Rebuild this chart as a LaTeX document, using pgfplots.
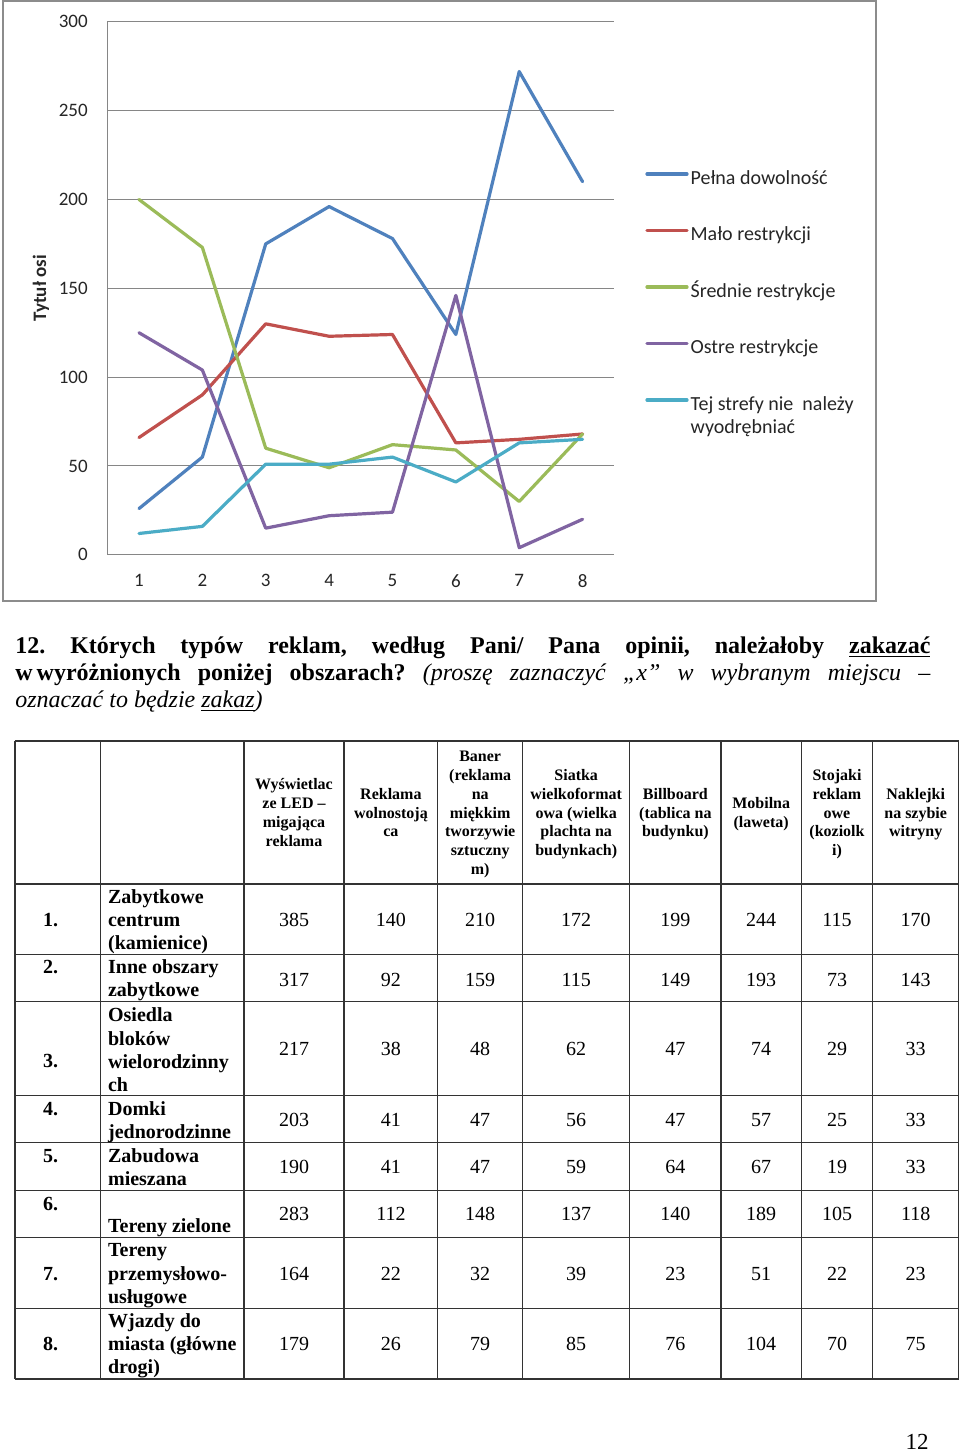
\documentclass[border=0pt]{standalone}
\usepackage{fontspec}
\setmainfont{Liberation Serif}
\newfontfamily\chartfont{Carlito}
\usepackage{pgfplots}
\pgfplotsset{compat=1.18}
\definecolor{sBlue}{HTML}{4F81BD}
\definecolor{sRed}{HTML}{C0504D}
\definecolor{sGreen}{HTML}{9BBB59}
\definecolor{sPurple}{HTML}{8064A2}
\definecolor{sAqua}{HTML}{4BACC6}
\definecolor{gridgray}{HTML}{868686}
\definecolor{framegray}{HTML}{8C8C8C}
\newcommand\hdr[3]{\foreach \t [count=\i] in {#3}{\node[anchor=base, inner sep=0pt, font=\bfseries\fontsize{8}{9}\selectfont] at (#1, {818-(#2-1)*9.35+(\i-1)*18.7}) {\t};}}
\newcommand\rl[2]{\node[anchor=base west, inner sep=0pt, font=\bfseries\fontsize{10}{11}\selectfont] at (107.7,#1) {#2};}
\newcommand\rn[2]{\node[anchor=base west, inner sep=0pt, font=\bfseries\fontsize{10}{11}\selectfont] at (42.7,#1) {#2};}
\begin{document}
\begin{tikzpicture}
\fill[white] (0,0) rectangle (480pt,-726pt);
\path[use as bounding box] (0,0) rectangle (480pt,-726pt);
\begin{scope}[x=0.5pt,y=-0.5pt]
\draw[framegray, line width=0.7pt] (3,0.8) rectangle (876,601);
\end{scope}
\begin{axis}[
  at={(53.65pt,-10.9pt)}, anchor=north west,
  scale only axis, width=253.5pt, height=266.5pt,
  xmin=0.5, xmax=8.5, ymin=0, ymax=300,
  xtick={1,2,...,8}, ytick={0,50,...,300},
  axis x line*=bottom, axis y line*=left,
  axis line style={gridgray, line width=0.5pt, -},
  ymajorgrids, grid style={gridgray, line width=0.5pt},
  major tick length=0pt,
  tick label style={font=\chartfont\fontsize{9.5}{11}\selectfont, inner sep=0pt, text=black!85},
  /pgf/number format/assume math mode=true,
  xticklabel shift=9.5pt, yticklabel shift=9.6pt,
  ylabel={Tytuł osi},
  ylabel style={at={(axis description cs:-0.1308,0.5)}, anchor=center, inner sep=0pt, font=\chartfont\bfseries\fontsize{9.5}{11}\selectfont, text=black!85},
  legend style={draw=none, fill=none, at={(axis description cs:1.0606,0.7208)}, anchor=north west,
    inner sep=0pt, row sep=19.6pt, column sep=1pt,
    nodes={inner sep=0pt, text height=6.65pt, text depth=2pt, font=\chartfont\fontsize{10}{11.7}\selectfont, text=black!85}},
  legend cell align=left,
  legend image code/.code={\draw[#1, line width=1.6pt] (0pt,2.8pt) -- (20pt,2.8pt);},
  every axis plot/.append style={line width=1.6pt, line join=round, line cap=round},
  clip=false,
]
\addplot[sBlue] coordinates {(1,26)(2,55)(3,175)(4,196)(5,178)(6,124)(7,272)(8,210)};
\addlegendentry{Pełna dowolność}
\addplot[sRed] coordinates {(1,66)(2,90)(3,130)(4,123)(5,124)(6,63)(7,65)(8,68)};
\addlegendentry{Mało restrykcji}
\addplot[sGreen] coordinates {(1,200)(2,173)(3,60)(4,49)(5,62)(6,59)(7,30)(8,68)};
\addlegendentry{Średnie restrykcje}
\addplot[sPurple] coordinates {(1,125)(2,104)(3,15)(4,22)(5,24)(6,146)(7,4)(8,20)};
\addlegendentry{Ostre restrykcje}
\addplot[sAqua] coordinates {(1,12)(2,16)(3,51)(4,51)(5,55)(6,41)(7,63)(8,65)};
\addlegendentry{\parbox[t]{95pt}{Tej strefy nie\ \ należy\\wyodrębniać}}
\end{axis}
\begin{scope}[x=0.5pt,y=-0.5pt]
% question
\node[anchor=base west, inner sep=0pt] at (15,653) {\parbox[t]{457.5pt}{\fontsize{12}{13.5}\selectfont\bfseries\frenchspacing\tolerance=10000\hbadness=10000
12. Których typów reklam, według Pani/ Pana opinii, należałoby \underline{zakazać}\linebreak
w\hspace{2pt}wyróżnionych poniżej obszarach? {\mdseries\itshape (proszę zaznaczyć „x” w wybranym miejscu –}\linebreak
{\mdseries\itshape oznaczać to będzie \underline{zakaz})}}};
% table grid
\foreach \x in {15,100.3,244,344,437.7,522.7,629.7,721,801.3,872.7,958.7}
  \draw[black!80, line width=0.65pt] (\x,741) -- (\x,1379);
\foreach \y in {741,884,954.3,1001.7,1095.3,1142.7,1190.3,1237.7,1308.3,1379}
  \draw[black!80, line width=0.65pt] (15,\y) -- (958.7,\y);
% header
\hdr{294}{4}{Wyświetlac,ze LED –,migająca,reklama}
\hdr{390.9}{3}{Reklama,wolnostoją,ca}
\hdr{480.2}{7}{Baner,{(reklama},na,miękkim,tworzywie,sztuczny,{m)}}
\hdr{576.2}{5}{Siatka,wielkoformat,owa (wielka,plachta na,budynkach)}
\hdr{675.4}{3}{Billboard,{(tablica na},budynku)}
\hdr{761.2}{2}{Mobilna,{(laweta)}}
\hdr{837}{5}{Stojaki,reklam,owe,{(koziolk},{i)}}
\hdr{915.7}{3}{Naklejki,na szybie,witryny}
% row numbers
\rn{926.7}{1.}\rn{973.3}{2.}\rn{1067.3}{3.}\rn{1115}{4.}\rn{1162.3}{5.}\rn{1210}{6.}\rn{1280}{7.}\rn{1350}{8.}
% row labels
\rl{903.3}{Zabytkowe}\rl{926.6}{centrum}\rl{949.9}{(kamienice)}
\rl{973.3}{Inne obszary}\rl{996.6}{zabytkowe}
\rl{1021.7}{Osiedla}\rl{1045}{bloków}\rl{1068.3}{wielorodzinny}\rl{1091.6}{ch}
\rl{1115}{Domki}\rl{1138.3}{jednorodzinne}
\rl{1162.3}{Zabudowa}\rl{1185.6}{mieszana}
\rl{1232.3}{Tereny zielone}
\rl{1256.7}{Tereny}\rl{1280}{przemysłowo-}\rl{1303.3}{usługowe}
\rl{1327.3}{Wjazdy do}\rl{1350.6}{miasta (główne}\rl{1373.9}{drogi)}
% values
\foreach \yb/\vals in {926.7/{385,140,210,172,199,244,115,170},
  986/{317,92,159,115,149,193,73,143},
  1055/{217,38,48,62,47,74,29,33},
  1126/{203,41,47,56,47,57,25,33},
  1173.3/{190,41,47,59,64,67,19,33},
  1220.7/{283,112,148,137,140,189,105,118},
  1280/{164,22,32,39,23,51,22,23},
  1350/{179,26,79,85,76,104,70,75}}{
  \foreach \v [count=\c] in \vals {
    \pgfmathsetmacro\cx{{294,390.9,480.2,576.2,675.4,761.2,837,915.7}[\c-1]}
    \node[anchor=base, inner sep=0pt, font=\fontsize{10}{11}\selectfont] at (\cx,\yb) {\v};
  }
}
% page number
\node[anchor=base, inner sep=0pt, font=\fontsize{11.5}{13}\selectfont] at (917,1449) {12};
\end{scope}
\end{tikzpicture}
\end{document}
